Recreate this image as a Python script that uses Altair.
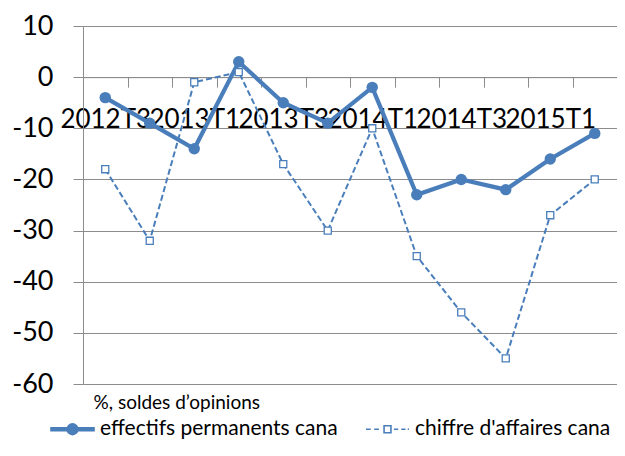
import json
import altair as alt
import pandas as pd

periods = ["2012T3", "2012T4", "2013T1", "2013T2", "2013T3", "2013T4",
           "2014T1", "2014T2", "2014T3", "2014T4", "2015T1", "2015T2"]
effectifs = [-4, -9, -14, 3, -5, -9, -2, -23, -20, -22, -16, -11]
chiffre = [-18, -32, -1, 1, -17, -30, -10, -35, -46, -55, -27, -20]
labelled = ["2012T3", "2013T1", "2013T3", "2014T1", "2014T3", "2015T1"]
series_names = ["effectifs permanents cana", "chiffre d'affaires cana"]
y_ticks = [10, 0, -10, -20, -30, -40, -50, -60]
note = "%, soldes d\u2019opinions"

BLUE = "#4a7ebb"
GREY = "#8c8c8c"
FONT = "Lato"

TOP = 18
W, H = 534, 358
ZERO_FROM_TOP = H * 10 / 70

df = pd.DataFrame({
    "period": periods * 2,
    "series": [series_names[0]] * len(periods) + [series_names[1]] * len(periods),
    "value": effectifs + chiffre,
})

label_expr = "indexof(" + json.dumps(labelled) + ", datum.value) >= 0 ? datum.label : ''"

x_enc = alt.X(
    "period:N", sort=periods,
    scale=alt.Scale(type="band", domain=periods, paddingInner=0, paddingOuter=0),
    axis=alt.Axis(
        title=None, orient="bottom", offset=-(H - ZERO_FROM_TOP), labelAngle=0,
        labelExpr=label_expr, labelOverlap=False, labelFont=FONT, labelFontSize=26,
        labelColor="black", labelPadding=19, labelBaseline="top", tickBand="extent",
        tickSize=10, tickColor=GREY, domainColor=GREY, grid=False,
    ),
)
y_enc = alt.Y(
    "value:Q",
    scale=alt.Scale(domain=[-60, 10], nice=False, zero=False),
    axis=alt.Axis(
        title=note, titleX=10, titleY=H + 18, titleAngle=0, titleAlign="left",
        titleBaseline="middle", titleFont=FONT, titleFontSize=19,
        titleFontWeight="normal", titleColor="black",
        values=y_ticks, labelExpr="'' + datum.value",
        labelFont=FONT, labelFontSize=27, labelColor="black",
        labelPadding=20, tickSize=10, tickColor=GREY, domainColor=GREY,
        gridColor=GREY, grid=True,
    ),
)

base = alt.Chart(df).encode(x=x_enc, y=y_enc)

solid = base.transform_filter(alt.datum.series == series_names[0])
dashed = base.transform_filter(alt.datum.series == series_names[1])

solid_line = solid.mark_line(color=BLUE, strokeWidth=4.2)
solid_pts = solid.mark_point(shape="circle", filled=True, color=BLUE, size=130, opacity=1)
dashed_line = dashed.mark_line(color=BLUE, strokeWidth=2, strokeDash=[6, 3])
dashed_pts = dashed.mark_point(shape="square", filled=True, fill="white", stroke=BLUE,
                               strokeWidth=1.3, size=50, opacity=1)

P_SOLID = ("M-1,-0.07H1V0.07H-1Z "
           "M-0.25,0A0.25,0.25,0,1,1,0.25,0A0.25,0.25,0,1,1,-0.25,0Z")
P_DASH = ("M-1,0H-0.78M-0.62,0H-0.4 "
          "M-0.16,-0.16H0.16V0.16H-0.16Z "
          "M0.3,0H0.5M0.64,0H0.84M0.94,0H1")

legend_layer = base.transform_filter("datum.value > 1000").mark_point(
    opacity=1, strokeWidth=1.5
).encode(
    shape=alt.Shape(
        "series:N",
        scale=alt.Scale(domain=series_names, range=[P_SOLID, P_DASH]),
        legend=alt.Legend(
            title=None, orient="none", direction="horizontal", legendX=-33,
            legendY=H + 44 - 21.5,
            labelFont=FONT, labelFontSize=21, labelColor="black", labelLimit=400,
            symbolSize=1849, symbolStrokeWidth=1.6, symbolStrokeColor=BLUE,
            symbolOpacity=1, labelOffset=5, columnPadding=24,
        ),
    ),
    fill=alt.Fill(
        "series:N",
        scale=alt.Scale(domain=series_names, range=[BLUE, "white"]),
    ),
    stroke=alt.Stroke(
        "series:N",
        scale=alt.Scale(domain=series_names, range=[BLUE, BLUE]),
    ),
)

chart = alt.layer(
    dashed_line, solid_line, dashed_pts, solid_pts, legend_layer
).properties(
    width=W, height=H,
    autosize=alt.AutoSizeParams(type="none"),
    padding={"left": 75, "top": TOP, "right": 0, "bottom": 432 - TOP - H},
).configure_view(stroke=None).configure(background="white")

chart.save("out.html", embed_options={"renderer": "svg", "actions": False})
